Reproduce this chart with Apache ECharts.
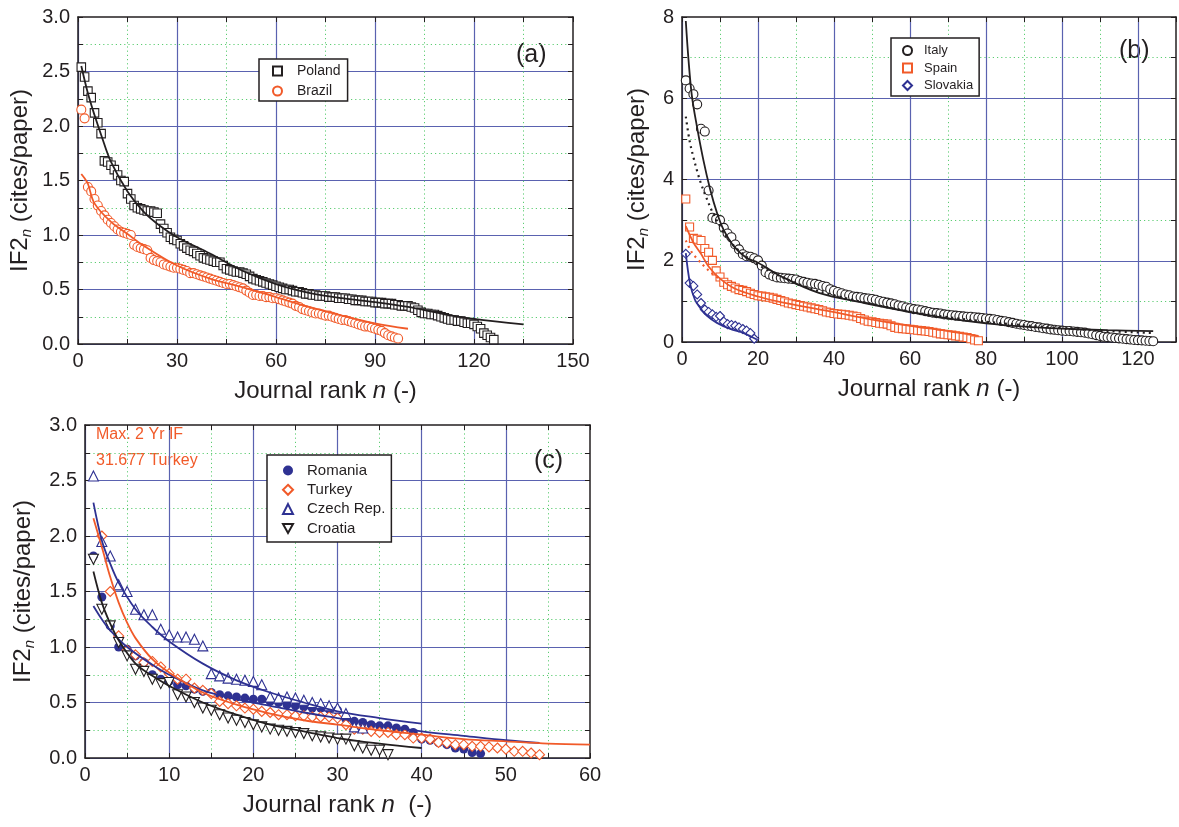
<!DOCTYPE html>
<html>
<head>
<meta charset="utf-8">
<script src="https://cdn.jsdelivr.net/npm/echarts@6/dist/echarts.min.js"></script>
<style>
  html, body { margin: 0; padding: 0; background: #fff; }
  #chart { width: 1179px; height: 827px; }
</style>
</head>
<body>
<div id="chart"></div>
<script>
// ---- Panel (a): 2-year impact factor by journal rank ----
const polandIF = [2.54,2.45,2.32,2.26,2.12,2.03,1.93,1.68,1.67,1.64,
  1.60,1.55,1.50,1.49,1.38,1.33,1.27,1.25,1.24,1.23,
  1.22,1.22,1.21,1.20,1.10,1.06,1.02,0.98,0.96,0.95,
  0.92,0.90,0.88,0.86,0.85,0.83,0.81,0.79,0.78,0.77,
  0.76,0.75,0.75,0.72,0.69,0.68,0.67,0.66,0.66,0.65,
  0.64,0.62,0.60,0.59,0.58,0.57,0.56,0.55,0.54,0.53,
  0.52,0.51,0.50,0.50,0.49,0.48,0.48,0.47,0.46,0.46,
  0.45,0.45,0.44,0.44,0.44,0.43,0.43,0.43,0.42,0.42,
  0.42,0.41,0.41,0.40,0.40,0.40,0.39,0.39,0.39,0.38,
  0.38,0.38,0.37,0.37,0.37,0.36,0.36,0.35,0.35,0.35,
  0.34,0.33,0.31,0.29,0.28,0.28,0.27,0.27,0.26,0.25,
  0.24,0.23,0.22,0.22,0.21,0.21,0.20,0.19,0.19,0.18,
  0.16,0.14,0.10,0.08,0.06,0.04];
const brazilIF = [2.15,2.07,1.44,1.40,1.33,1.27,1.22,1.18,1.14,1.11,
  1.08,1.05,1.03,1.02,1.01,1.00,0.91,0.89,0.88,0.87,
  0.86,0.79,0.77,0.76,0.75,0.73,0.72,0.71,0.70,0.70,
  0.69,0.68,0.67,0.65,0.65,0.64,0.63,0.62,0.61,0.60,
  0.59,0.58,0.57,0.56,0.55,0.55,0.54,0.53,0.52,0.51,
  0.49,0.47,0.45,0.45,0.44,0.44,0.43,0.43,0.42,0.42,
  0.41,0.40,0.39,0.38,0.37,0.35,0.34,0.32,0.31,0.30,
  0.29,0.28,0.28,0.27,0.26,0.26,0.25,0.24,0.23,0.22,
  0.22,0.21,0.20,0.19,0.18,0.17,0.16,0.16,0.15,0.14,
  0.13,0.12,0.10,0.08,0.07,0.06,0.05];
const polandFit = [[1,2.55],[3,2.30],[5,2.10],[7,1.92],[10,1.67],[15,1.40],[20,1.21],
  [25,1.08],[30,0.98],[40,0.83],[50,0.67],[60,0.55],[70,0.47],[80,0.42],[90,0.385],
  [100,0.34],[110,0.28],[120,0.23],[135,0.18]];
const brazilFit = [[1,1.56],[2,1.52],[3,1.47],[5,1.29],[10,1.12],[15,1.01],[20,0.90],
  [30,0.72],[40,0.60],[50,0.52],[60,0.43],[70,0.34],[80,0.26],[90,0.19],[100,0.14]];

// ---- Panel (b) ----
const italyIF = [6.44,6.24,6.10,5.85,5.25,5.18,3.73,3.06,3.03,3.00,
  2.81,2.67,2.58,2.40,2.28,2.16,2.11,2.10,2.06,2.01,
  1.88,1.72,1.66,1.62,1.59,1.58,1.57,1.56,1.55,1.54,
  1.50,1.48,1.46,1.44,1.43,1.41,1.38,1.36,1.30,1.26,
  1.23,1.20,1.17,1.15,1.12,1.11,1.10,1.08,1.07,1.06,
  1.04,1.01,0.99,0.97,0.95,0.93,0.90,0.88,0.85,0.83,
  0.81,0.80,0.78,0.76,0.74,0.72,0.71,0.70,0.68,0.67,
  0.66,0.65,0.64,0.63,0.62,0.62,0.61,0.60,0.59,0.58,
  0.57,0.56,0.54,0.52,0.51,0.49,0.47,0.45,0.43,0.42,
  0.40,0.39,0.37,0.36,0.34,0.33,0.31,0.30,0.29,0.28,
  0.27,0.27,0.26,0.25,0.24,0.23,0.21,0.19,0.17,0.15,
  0.13,0.12,0.11,0.10,0.09,0.08,0.07,0.06,0.05,0.045,
  0.04,0.03,0.025,0.02];
const spainIF = [3.52,2.83,2.55,2.53,2.50,2.30,2.21,2.01,1.75,1.60,
  1.47,1.41,1.37,1.33,1.29,1.27,1.24,1.20,1.17,1.14,
  1.13,1.11,1.10,1.08,1.05,1.02,0.99,0.96,0.94,0.92,
  0.90,0.88,0.86,0.84,0.82,0.80,0.77,0.74,0.72,0.70,
  0.69,0.68,0.67,0.66,0.64,0.62,0.58,0.54,0.51,0.50,
  0.48,0.46,0.45,0.44,0.40,0.36,0.34,0.33,0.32,0.31,
  0.30,0.29,0.28,0.27,0.26,0.24,0.22,0.20,0.19,0.18,
  0.17,0.15,0.14,0.12,0.11,0.08,0.05,0.03];
const slovakiaIF = [2.17,1.45,1.38,1.17,0.96,0.80,0.74,0.68,0.62,0.64,
  0.50,0.44,0.42,0.40,0.36,0.32,0.28,0.22,0.08];
const italyFit = [[1,7.90],[1.7,6.96],[2.6,6.06],[3.9,5.32],[5.6,4.49],[7.4,3.76],[9.2,3.18],
  [10.9,2.77],[13.6,2.36],[17,2.07],[20,1.95],[26,1.62],[36,1.21],[48,0.96],[60,0.74],
  [70,0.58],[80,0.46],[90,0.38],[100,0.33],[112,0.29],[124,0.27]];
const italyFit2 = [[1,5.55],[2,4.95],[3,4.55],[4,4.20],[5,3.90],[6,3.65],[8,3.20],[10,2.85],
  [12,2.55],[15,2.25],[20,1.90],[30,1.45],[40,1.15],[60,0.75],[80,0.50],[100,0.34],
  [110,0.28],[124,0.22]];
const spainFit = [[1,2.85],[3,2.45],[5,2.17],[7,1.86],[10,1.56],[14,1.31],[20,1.12],
  [26,0.98],[38,0.77],[50,0.55],[60,0.40],[70,0.27],[78,0.15]];
const spainFit2 = [[1,2.50],[2,2.30],[3,2.15],[4,2.05],[6,1.85],[8,1.68],[10,1.55]];
const slovakiaFit = [[1,2.19],[2.1,1.45],[3.4,1.04],[4.8,0.84],[6.5,0.65],[9.2,0.47],
  [12.7,0.32],[16.2,0.22],[19.7,0.06]];

// ---- Panel (c) ----
const romaniaIF = [1.82,1.45,1.19,1.00,0.98,0.92,0.86,0.75,0.71,0.69,
  0.66,0.65,0.62,0.60,0.59,0.57,0.56,0.55,0.54,0.53,
  0.53,0.51,0.50,0.48,0.47,0.46,0.45,0.45,0.44,0.43,
  0.35,0.33,0.32,0.30,0.29,0.29,0.27,0.26,0.23,0.17,
  0.16,0.14,0.12,0.09,0.08,0.05,0.04];
const turkeyIF = [31.677,2.00,1.50,1.10,0.97,0.93,0.86,0.87,0.82,0.76,
  0.71,0.71,0.63,0.61,0.58,0.51,0.49,0.47,0.45,0.44,
  0.42,0.41,0.39,0.39,0.38,0.38,0.37,0.37,0.37,0.36,
  0.30,0.26,0.26,0.24,0.23,0.23,0.21,0.21,0.18,0.18,
  0.17,0.14,0.135,0.12,0.12,0.105,0.105,0.10,0.09,0.08,
  0.06,0.06,0.045,0.03];
const czechIF = [2.54,1.95,1.82,1.56,1.50,1.34,1.29,1.29,1.16,1.11,
  1.09,1.09,1.07,1.01,0.76,0.74,0.72,0.71,0.70,0.69,
  0.66,0.55,0.54,0.55,0.54,0.52,0.50,0.49,0.47,0.45,
  0.40,0.28,0.27];
const croatiaIF = [1.79,1.34,1.19,1.04,0.92,0.80,0.78,0.71,0.67,0.68,
  0.57,0.55,0.50,0.45,0.43,0.39,0.36,0.34,0.32,0.30,
  0.28,0.26,0.25,0.24,0.23,0.22,0.20,0.19,0.18,0.17,
  0.17,0.11,0.09,0.07,0.07,0.03];
const romaniaFit = [[1,1.37],[2,1.25],[3,1.15],[5,1.00],[8,0.84],[10,0.75],[14,0.61],
  [18,0.53],[22,0.47],[26,0.41],[30,0.36],[35,0.30],[40,0.24],[45,0.20],[50,0.16],[54,0.135]];
const turkeyFit = [[1,2.16],[2,1.90],[3,1.63],[4,1.40],[5,1.22],[6,1.08],[8,0.89],[10,0.77],
  [14,0.59],[18,0.48],[22,0.40],[26,0.34],[30,0.30],[35,0.25],[40,0.21],[45,0.17],
  [50,0.15],[55,0.13],[60,0.12]];
const czechFit = [[1,2.30],[2,1.96],[3,1.75],[4,1.58],[6,1.34],[8,1.18],[10,1.05],[14,0.85],
  [18,0.70],[22,0.59],[26,0.50],[30,0.42],[35,0.36],[40,0.31]];
const croatiaFit = [[1,1.68],[2,1.40],[3,1.21],[4,1.06],[6,0.85],[8,0.74],[10,0.65],[14,0.50],
  [18,0.39],[22,0.30],[26,0.24],[30,0.18],[35,0.13],[40,0.09]];

// ---- styling ----
const FONT = "'Liberation Sans', Arial, Helvetica, sans-serif";
const INK = '#231f20';
const ORANGE = '#f15a29';
const NAVY = '#2e3192';
const GRID_BLUE = '#5a62b0';
const GRID_GREEN = '#5ccd72';
// downward-pointing triangle marker
const DOWN_TRIANGLE = 'path://M0,0 L10,0 L5,9 Z';

const byRank = arr => arr.map((v, i) => [i + 1, v]);
const isMult = (v, m) => Math.abs(v / m - Math.round(v / m)) < 1e-6;

const xTitle = (txt2) => ({
  name: '{t|Journal rank }{i|n}{t|' + txt2 + '}',
  nameLocation: 'middle',
  nameTextStyle: {
    rich: {
      t: { fontSize: 24, fontFamily: FONT, color: INK },
      i: { fontSize: 24, fontFamily: FONT, color: INK, fontStyle: 'italic' }
    }
  }
});
const yTitle = {
  name: '{t|IF2}{s|n}{t| (cites/paper)}',
  nameLocation: 'middle',
  nameTextStyle: {
    rich: {
      t: { fontSize: 24, fontFamily: FONT, color: INK, lineHeight: 28 },
      s: { fontSize: 15, fontFamily: FONT, color: INK, fontStyle: 'italic', verticalAlign: 'bottom', lineHeight: 10 }
    }
  }
};

const frameLine = { show: true, onZero: false, lineStyle: { color: INK, width: 1.5 } };
const tick = { show: true, inside: true, length: 5, lineStyle: { color: INK, width: 1 } };

// builds bottom/top x axes and left/right y axes for one panel;
// the bottom/left axes carry the dotted minor grid, the top/right axes the solid major grid
function panelAxes(g, xs, ys) {
  const majorCycle = (ratio) => {
    const c = [GRID_BLUE];
    for (let k = 1; k < ratio; k++) c.push('rgba(0,0,0,0)');
    return c;
  };
  const xBottom = Object.assign({
    type: 'value', gridIndex: g, position: 'bottom',
    min: xs.min, max: xs.max, interval: xs.minor,
    axisLine: frameLine, axisTick: tick,
    axisLabel: {
      fontSize: 20, fontFamily: FONT, color: INK, margin: 7,
      showMinLabel: true, showMaxLabel: true, hideOverlap: false,
      formatter: v => (isMult(v, xs.major) && v <= xs.labelMax) ? String(Math.round(v)) : ''
    },
    splitLine: { show: true, showMinLine: false, showMaxLine: false,
      lineStyle: { color: GRID_GREEN, width: 1, type: [1.2, 3] } },
    nameGap: xs.nameGap
  }, xTitle(xs.unit));
  const xTop = {
    type: 'value', gridIndex: g, position: 'top',
    min: xs.min, max: xs.max, interval: xs.minor,
    axisLine: frameLine, axisTick: tick, axisLabel: { show: false },
    splitLine: { show: true, showMinLine: true, showMaxLine: false,
      lineStyle: { color: majorCycle(Math.round(xs.major / xs.minor)), width: 1.2 } }
  };
  const yLeft = Object.assign({
    type: 'value', gridIndex: g, position: 'left',
    min: ys.min, max: ys.max, interval: ys.minor,
    axisLine: frameLine, axisTick: tick,
    axisLabel: {
      fontSize: 20, fontFamily: FONT, color: INK, margin: 8,
      showMinLabel: true, showMaxLabel: true, hideOverlap: false,
      formatter: v => isMult(v, ys.major) ? v.toFixed(ys.digits) : ''
    },
    splitLine: { show: true, showMinLine: false, showMaxLine: false,
      lineStyle: { color: GRID_GREEN, width: 1, type: [1.2, 3] } },
    nameGap: ys.nameGap
  }, yTitle);
  const yRight = {
    type: 'value', gridIndex: g, position: 'right',
    min: ys.min, max: ys.max, interval: ys.minor,
    axisLine: frameLine, axisTick: tick, axisLabel: { show: false },
    splitLine: { show: true, showMinLine: true, showMaxLine: false,
      lineStyle: { color: majorCycle(Math.round(ys.major / ys.minor)), width: 1.2 } }
  };
  return { x: [xBottom, xTop], y: [yLeft, yRight] };
}

const A = panelAxes(0,
  { min: 0, max: 150, minor: 15, major: 30, labelMax: 150, unit: ' (-)', nameGap: 35 },
  { min: 0, max: 3, minor: 0.25, major: 0.5, digits: 1, nameGap: 44 });
const B = panelAxes(1,
  { min: 0, max: 130, minor: 10, major: 20, labelMax: 120, unit: ' (-)', nameGap: 35 },
  { min: 0, max: 8, minor: 1, major: 2, digits: 0, nameGap: 31 });
const C = panelAxes(2,
  { min: 0, max: 60, minor: 5, major: 10, labelMax: 60, unit: '  (-)', nameGap: 35 },
  { min: 0, max: 3, minor: 0.25, major: 0.5, digits: 1, nameGap: 48 });

// bottom x axes are 0, 2, 4 and left y axes are 0, 2, 4
function markers(name, data, p, symbol, size, color, filled) {
  return {
    type: 'scatter', name, data: byRank(data),
    xAxisIndex: p * 2, yAxisIndex: p * 2,
    symbol, symbolSize: size, clip: true,
    itemStyle: filled
      ? { color: color, borderWidth: 0, opacity: 1 }
      : { color: '#ffffff', borderColor: color, borderWidth: 1.1, opacity: 1 },
    z: 3
  };
}
function fit(name, pts, p, color, dotted) {
  return {
    type: 'line', name, data: pts, xAxisIndex: p * 2, yAxisIndex: p * 2,
    smooth: 0.35, showSymbol: false, clip: true, silent: true,
    lineStyle: { color, width: dotted ? 2.2 : 1.8, type: dotted ? [2, 4] : 'solid' },
    z: 4
  };
}

const legendBase = {
  orient: 'vertical', borderColor: INK, borderWidth: 1.5, backgroundColor: '#fff',
  selectedMode: false, z: 10
};

const option = {
  animation: false,
  backgroundColor: '#ffffff',
  grid: [
    { left: 78, top: 17, width: 495, height: 327 },
    { left: 682, top: 17, width: 494, height: 325 },
    { left: 85, top: 425, width: 505, height: 333 }
  ],
  xAxis: [...A.x, ...B.x, ...C.x],
  yAxis: [...A.y, ...B.y, ...C.y],
  legend: [
    Object.assign({}, legendBase, {
      data: ['Poland', 'Brazil'], left: 259, top: 59,
      itemWidth: 9, itemHeight: 9, itemGap: 6, padding: [5, 7, 3, 13],
      textStyle: { fontSize: 14, fontFamily: FONT, color: INK, padding: [0, 0, 0, 10] }
    }),
    Object.assign({}, legendBase, {
      data: ['Italy', 'Spain', 'Slovakia'], left: 891, top: 38,
      itemWidth: 9, itemHeight: 9, itemGap: 4.5, padding: [6, 6, 4, 11],
      textStyle: { fontSize: 13, fontFamily: FONT, color: INK, padding: [0, 0, 0, 7] }
    }),
    Object.assign({}, legendBase, {
      data: ['Romania', 'Turkey', 'Czech Rep.', 'Croatia'], left: 267, top: 455,
      itemWidth: 10, itemHeight: 10, itemGap: 4.3, padding: [8, 6, 6, 15],
      textStyle: { fontSize: 15, fontFamily: FONT, color: INK, padding: [0, 0, 0, 9] }
    })
  ],
  graphic: [
    { type: 'text', left: 516, top: 43, style: { text: '(a)', font: '25px ' + FONT, fill: INK } },
    { type: 'text', left: 1119, top: 39, style: { text: '(b)', font: '25px ' + FONT, fill: INK } },
    { type: 'text', left: 534, top: 449, style: { text: '(c)', font: '25px ' + FONT, fill: INK } },
    { type: 'text', left: 96, top: 427, style: { text: 'Max. 2 Yr IF', font: '16px ' + FONT, fill: ORANGE } },
    { type: 'text', left: 96, top: 453, style: { text: '31.677 Turkey', font: '16px ' + FONT, fill: ORANGE } }
  ],
  series: [
    markers('Poland', polandIF, 0, 'rect', 8.5, INK, false),
    markers('Brazil', brazilIF, 0, 'circle', 9, ORANGE, false),
    fit('Poland fit', polandFit, 0, INK),
    fit('Brazil fit', brazilFit, 0, ORANGE),

    markers('Italy', italyIF, 1, 'circle', 9, INK, false),
    markers('Spain', spainIF, 1, 'rect', 8, ORANGE, false),
    markers('Slovakia', slovakiaIF, 1, 'diamond', 9, NAVY, false),
    fit('Italy fit', italyFit, 1, INK),
    fit('Italy fit 2', italyFit2, 1, INK, true),
    fit('Spain fit', spainFit, 1, ORANGE),
    fit('Spain fit 2', spainFit2, 1, ORANGE, true),
    fit('Slovakia fit', slovakiaFit, 1, NAVY),

    markers('Romania', romaniaIF, 2, 'circle', 9, NAVY, true),
    markers('Turkey', turkeyIF, 2, 'diamond', 10, ORANGE, false),
    markers('Czech Rep.', czechIF, 2, 'triangle', 10, NAVY, false),
    markers('Croatia', croatiaIF, 2, DOWN_TRIANGLE, 10, INK, false),
    fit('Romania fit', romaniaFit, 2, NAVY),
    fit('Turkey fit', turkeyFit, 2, ORANGE),
    fit('Czech fit', czechFit, 2, NAVY),
    fit('Croatia fit', croatiaFit, 2, INK)
  ]
};

const chart = echarts.init(document.getElementById('chart'), null, { renderer: 'canvas' });
chart.setOption(option);
</script>
</body>
</html>
